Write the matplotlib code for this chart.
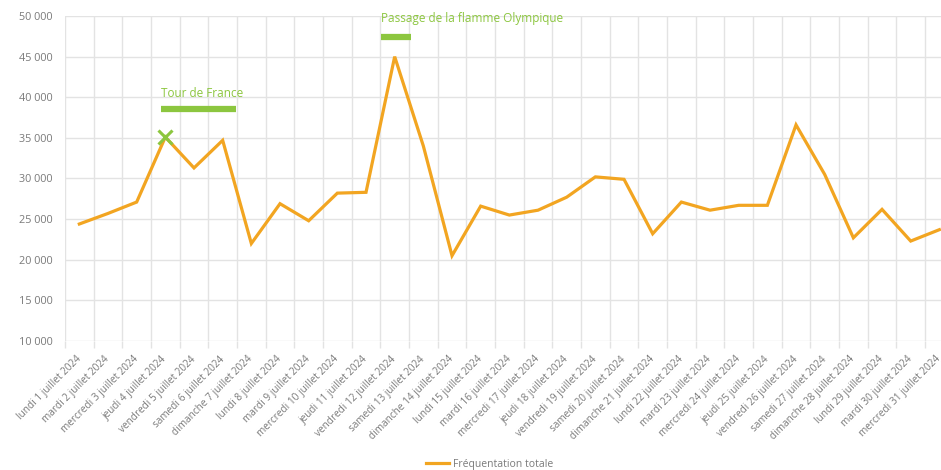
import matplotlib
matplotlib.use('Agg')
from matplotlib import pyplot as plt
from matplotlib.ticker import FuncFormatter, MultipleLocator
from matplotlib.transforms import ScaledTranslation

plt.rcParams['font.family'] = ['Open Sans', 'DejaVu Sans']

days = ['lundi', 'mardi', 'mercredi', 'jeudi', 'vendredi', 'samedi', 'dimanche']
dates = ['%s %d juillet 2024' % (days[i % 7], i + 1) for i in range(31)]

visitors = [24400, 25700, 27100, 35100, 31300, 34700, 22000, 26900, 24800, 28200,
            28300, 45000, 34000, 20500, 26600, 25500, 26100, 27700, 30200, 29900,
            23200, 27100, 26100, 26700, 26700, 36600, 30500, 22700, 26200, 22300,
            23700]

events = ['Tour de France', 'Passage de la flamme Olympique']
event_start = [2.85, 10.52]
event_end = [5.46, 11.57]
event_bar_y = [38550, 47400]
event_text_y = [40500, 49750]

orange = '#F2A521'
green = '#8CC63F'
grey = '#7a7a7a'
gridc = '#e3e3e3'

fig = plt.figure(figsize=(9.41, 4.70), dpi=100)
ax = fig.add_axes([65 / 941, 1 - 341 / 470, 888.7 / 941, 325 / 470])

x = list(range(len(visitors)))
ax.plot(x, visitors, color=orange, lw=2.3, label='Fréquentation totale',
        solid_joinstyle='miter', zorder=3)

# Tour de France marker on day 4
ax.plot(3, 35100, marker='x', ms=10, mew=2.2, color=green, zorder=4)

for name, x0, x1, yb, yt in zip(events, event_start, event_end, event_bar_y, event_text_y):
    ax.plot([x0, x1], [yb, yb], color=green, lw=4.5, solid_capstyle='butt', zorder=4)
    ax.text(x0, yt, name, color=green, fontsize=8.5, ha='left', va='center')

ax.set_xlim(-0.5, len(visitors) - 0.5)
ax.set_ylim(10000, 50000)
ax.yaxis.set_major_locator(MultipleLocator(5000))
ax.yaxis.set_major_formatter(FuncFormatter(lambda v, p: '{:,}'.format(int(v)).replace(',', ' ')))

ax.set_xticks(x)
ax.set_xticklabels(dates, rotation=45, ha='right', va='center', rotation_mode='anchor',
                   fontsize=7.2, color=grey)
shift = ScaledTranslation(-4 / 100, 0, fig.dpi_scale_trans)
for lab in ax.get_xticklabels():
    lab.set_transform(lab.get_transform() + shift)
ax.set_xticks([i - 0.5 for i in range(len(visitors) + 1)], minor=True)
ax.tick_params(axis='x', which='major', length=0, pad=12)
ax.tick_params(axis='x', which='minor', length=5, color=gridc, width=1)
ax.tick_params(axis='y', length=0, labelsize=7.8, labelcolor=grey, pad=9)

ax.grid(True, which='minor', axis='x', color=gridc, lw=1)
ax.grid(True, which='major', axis='y', color=gridc, lw=1)
ax.set_axisbelow(True)
for s in ax.spines.values():
    s.set_visible(False)

fig.legend(loc='center', bbox_to_anchor=(490 / 941, 1 - 464 / 470), frameon=False,
           fontsize=7.5, labelcolor=grey, handlelength=2.2, handletextpad=0.4)

fig.savefig('out.png', dpi=100)
